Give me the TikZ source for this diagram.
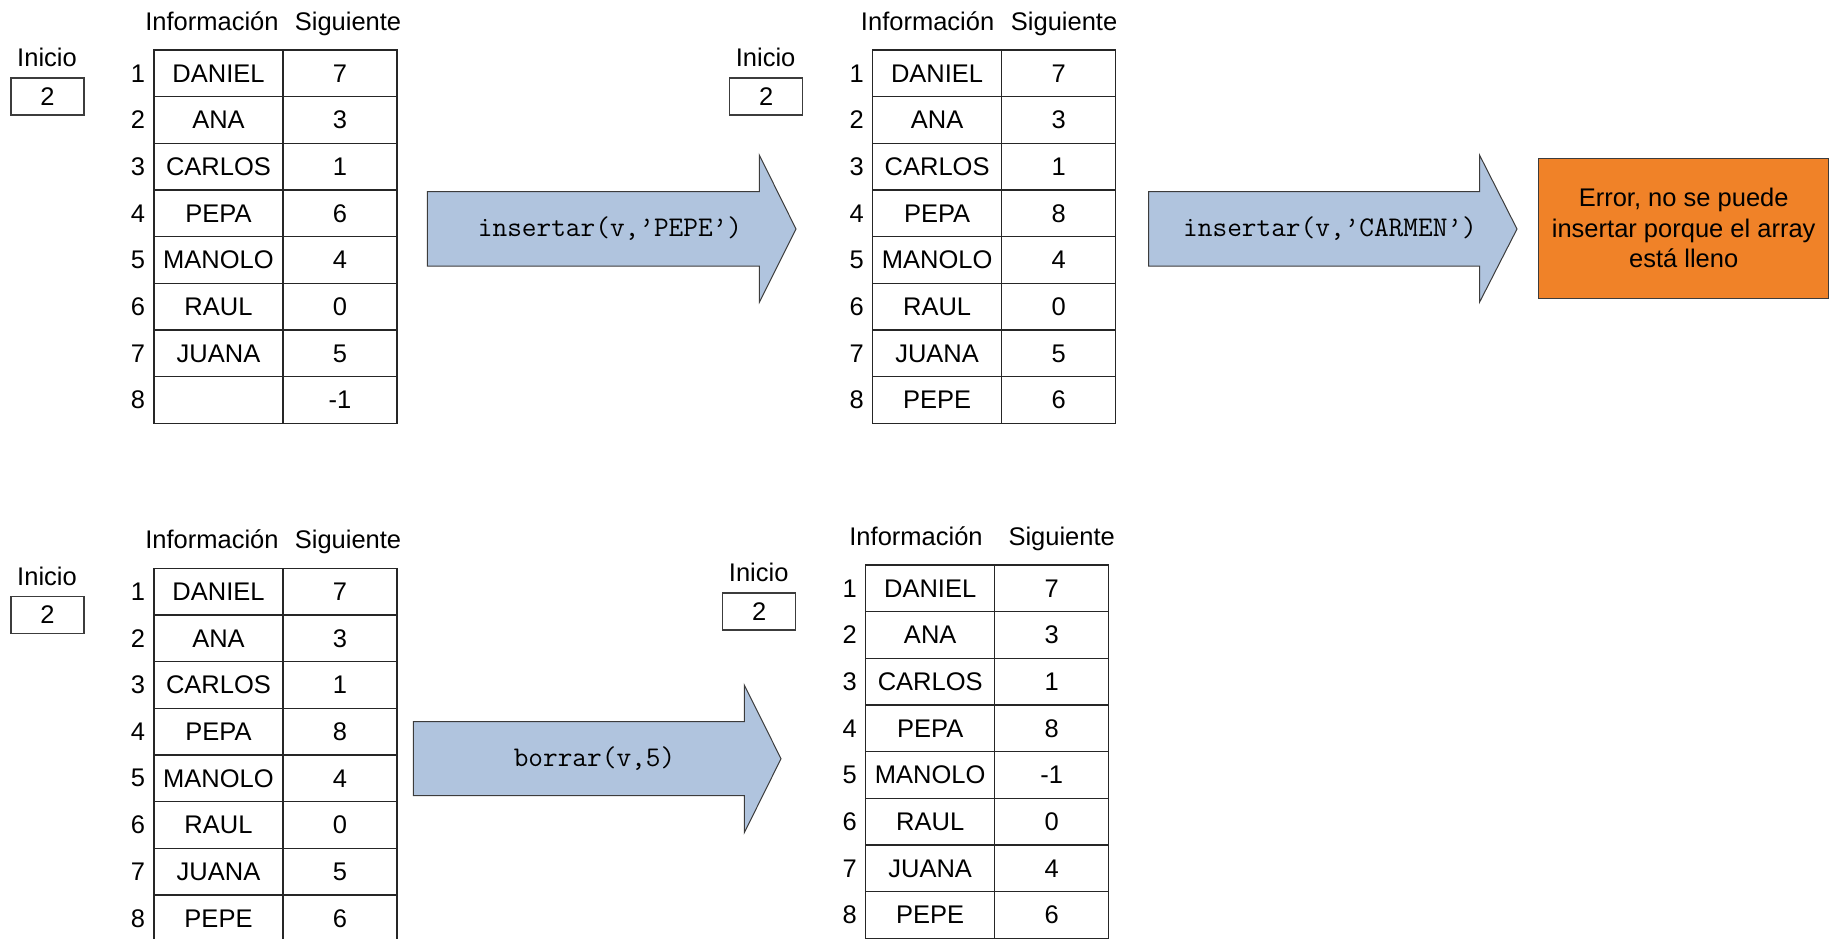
\documentclass[tikz,border=0pt]{standalone}
\usepackage{fontspec}
\setmainfont{Liberation Sans}
\definecolor{arrowblue}{RGB}{176,196,222}
\definecolor{erroramber}{RGB}{240,130,40}
\definecolor{edgegray}{RGB}{60,60,60}

% One array with its header, start index and numbered rows.
% #1 name, #2 left x, #3 top y, #4/#5 header offsets, #6 rows as name/next
\newcommand\listarray[6]{%
  \node[headtext] (#1-hi) at (#2+#4,#3-20) {Información};
  \node[headtext] (#1-hn) at (#2+#5,#3-20) {Siguiente};
  \node[headtext] (#1-il) at (#2-107,#3+16.7) {Inicio};
  \node[startbox] (#1-ib) at (#2-106.5,#3+46.5) {2};
  \foreach \nm/\nx [count=\i] in {#6} {
    \node[cellinfo] (#1-a\i) at (#2+64.5,#3-23.33+46.67*\i) {\nm};
    \node[cellnext] (#1-b\i) at (#2+186,#3-23.33+46.67*\i) {\nx};
    \node[rownum] (#1-n\i) at (#2-16,#3-23.33+46.67*\i) {\i};
  }
}

\begin{document}
\begin{tikzpicture}[x=1pt,y=-1pt,
  font=\fontsize{25.5}{31.5}\selectfont,
  cellinfo/.style={draw=black!85, line width=1.4pt, minimum width=129pt,
    minimum height=46.67pt, inner sep=0pt},
  cellnext/.style={draw=black!85, line width=1.4pt, minimum width=114pt,
    minimum height=46.67pt, inner sep=0pt},
  rownum/.style={inner sep=0pt},
  headtext/.style={anchor=base, inner sep=0pt},
  startbox/.style={draw=edgegray, line width=1.1pt, minimum width=73pt,
    minimum height=37pt, inner sep=0pt},
  blockarrow/.style={fill=arrowblue, draw=edgegray, line width=1pt, line join=miter},
  code/.style={font=\ttfamily\fontsize{28.5}{32}\selectfont, inner sep=0pt, anchor=base},
  errbox/.style={fill=erroramber, draw=edgegray, line width=1pt,
    minimum width=290.5pt, minimum height=140pt, align=center, inner sep=0pt,
    font=\fontsize{25.5}{30.5}\selectfont}]

\useasboundingbox (0,0) rectangle (1829,938);
\clip (0,0) rectangle (1829,938);

% initial state
\listarray{ta}{154}{50}{58}{194}{DANIEL/7,ANA/3,CARLOS/1,PEPA/6,MANOLO/4,RAUL/0,JUANA/5,{}/-1}

% after inserting PEPE
\listarray{tb}{872.6}{50}{55}{191.5}{DANIEL/7,ANA/3,CARLOS/1,PEPA/8,MANOLO/4,RAUL/0,JUANA/5,PEPE/6}

% before deleting position 5
\listarray{tc}{154}{568.3}{58}{194}{DANIEL/7,ANA/3,CARLOS/1,PEPA/8,MANOLO/4,RAUL/0,JUANA/5,PEPE/6}

% after deleting position 5
\listarray{td}{865.7}{565}{50.3}{196}{DANIEL/7,ANA/3,CARLOS/1,PEPA/8,MANOLO/-1,RAUL/0,JUANA/4,PEPE/6}

% operation arrows
\draw[blockarrow] (427.3,191.7) -- (759.3,191.7) -- (759.3,155) -- (796,229)
  -- (759.3,302.3) -- (759.3,266) -- (427.3,266) -- cycle;
\node[code] (op1) at (610,236.7) {insertar(v,’PEPE’)};

\draw[blockarrow] (1148.5,191.7) -- (1479.5,191.7) -- (1479.5,155) -- (1517,229)
  -- (1479.5,302.3) -- (1479.5,266) -- (1148.5,266) -- cycle;
\node[code] (op2) at (1330,236.7) {insertar(v,’CARMEN’)};

\draw[blockarrow] (413.3,721.7) -- (744.3,721.7) -- (744.3,685) -- (781,758.7)
  -- (744.3,832.7) -- (744.3,795.7) -- (413.3,795.7) -- cycle;
\node[code] (op3) at (594.5,766.4) {borrar(v,5)};

% error message
\node[errbox] (err) at (1683.7,228.3) {Error, no se puede\\insertar porque el array\\está lleno};

\end{tikzpicture}
\end{document}
